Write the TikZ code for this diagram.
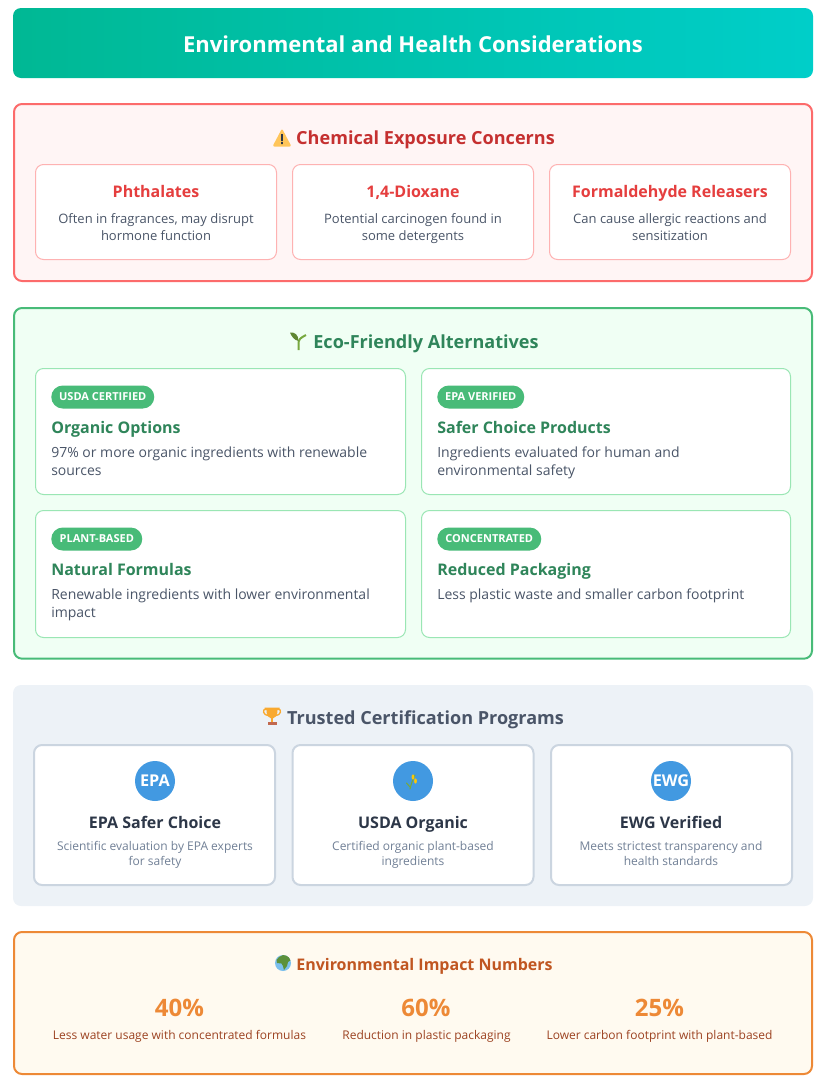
\documentclass[tikz,border=0pt]{standalone}
\usepackage{fontspec}
\setmainfont{Open Sans}
\usepackage{tikz}
\definecolor{headl}{HTML}{00B894}
\definecolor{headr}{HTML}{00CEC9}
\definecolor{redbd}{HTML}{FC6B6B}
\definecolor{redbg}{HTML}{FFF5F5}
\definecolor{redti}{HTML}{C53030}
\definecolor{redhd}{HTML}{E53E3E}
\definecolor{redln}{HTML}{FEB2B2}
\definecolor{grnbd}{HTML}{48BB78}
\definecolor{grnbg}{HTML}{F0FFF4}
\definecolor{grnti}{HTML}{2F855A}
\definecolor{grnln}{HTML}{9AE6B4}
\definecolor{slate}{HTML}{4A5568}
\definecolor{ink}{HTML}{2D3748}
\definecolor{gryln}{HTML}{CBD5E0}
\definecolor{grybg}{HTML}{EDF2F7}
\definecolor{gryte}{HTML}{718096}
\definecolor{blu}{HTML}{4299E1}
\definecolor{orabd}{HTML}{ED8936}
\definecolor{orabg}{HTML}{FFFAF0}
\definecolor{orati}{HTML}{C05621}
\definecolor{oratx}{HTML}{9C4221}
\definecolor{warny}{HTML}{FFC55A}
\definecolor{leaf}{HTML}{77A83E}
\definecolor{gold}{HTML}{F9A92F}
\definecolor{cupbase}{HTML}{C1694F}
\definecolor{sea}{HTML}{7CC0EE}
\definecolor{land}{HTML}{5C913B}
\tikzset{
  box/.style={anchor=north west,inner sep=0pt,outer sep=0pt,rounded corners=6pt},
  panel/.style={box,minimum width=598.5pt,line width=1.5pt},
  redcard/.style={box,draw=redln,fill=white,line width=.75pt,minimum width=180.75pt,minimum height=71.25pt},
  grncard/.style={box,draw=grnln,fill=white,line width=.75pt,minimum width=277.5pt,minimum height=94.5pt},
  grycard/.style={box,draw=gryln,fill=white,line width=1.5pt,minimum width=180.75pt,minimum height=105pt},
  paneltitle/.style={anchor=base,inner sep=0pt,font=\bfseries\fontsize{13.55}{16}\selectfont},
  redhead/.style={anchor=base,inner sep=0pt,text=redhd,font=\bfseries\fontsize{12}{15}\selectfont},
  redtext/.style={anchor=north,align=center,inner sep=0pt,text=slate,execute at begin node=\strut,font=\fontsize{9.75}{12.9}\selectfont},
  tag/.style={anchor=west,inner sep=0pt,rounded corners=8.6pt,fill=grnbd,text=white,minimum height=17.25pt,font=\bfseries\fontsize{8.25}{10}\selectfont},
  grnhead/.style={anchor=base west,inner sep=0pt,text=grnti,font=\bfseries\fontsize{12}{15}\selectfont},
  grntext/.style={anchor=north west,align=left,inner sep=0pt,text=slate,execute at begin node=\strut,font=\fontsize{10.5}{13.5}\selectfont},
  badge/.style={circle,fill=blu,text=white,minimum size=30pt,inner sep=0pt,font=\bfseries\fontsize{12.2}{14}\selectfont},
  gryhead/.style={anchor=base,inner sep=0pt,text=ink,font=\bfseries\fontsize{12}{15}\selectfont},
  grytext/.style={anchor=north,align=center,inner sep=0pt,text=gryte,execute at begin node=\strut,font=\fontsize{9}{11.25}\selectfont},
  stat/.style={anchor=base,inner sep=0pt,text=orabd,font=\bfseries\fontsize{18}{22}\selectfont},
  stattext/.style={anchor=base,inner sep=0pt,text=oratx,font=\fontsize{9}{12}\selectfont}
}
\begin{document}
\begin{tikzpicture}[x=0.75pt,y=-0.75pt,line cap=round,line join=round]
\useasboundingbox (0,0) rectangle (825,1086);
% header
\node[box,left color=headl,right color=headr,minimum width=600pt,minimum height=52.5pt] (header) at (13,8) {};
\node[anchor=base,inner sep=0pt,text=white,font=\bfseries\fontsize{16.5}{20}\selectfont] (headertext) at (413,52) {Environmental and Health Considerations};
% chemical concerns
\node[panel,draw=redbd,fill=redbg,minimum height=132.75pt] (chem) at (14,104) {};
\node[paneltitle,text=redti] (chemtitle) at (425.5,144) {Chemical Exposure Concerns};
\fill[warny,rounded corners=1.5pt] (282,128.5) -- (291.5,146.5) -- (272.5,146.5) -- cycle;
\fill[ink] (281.1,134) rectangle (282.9,141.2) (281.1,142.2) rectangle (282.9,144.2);
\node[redcard] (card1) at (35.5,164.5) {};
\node[redcard] (card2) at (292.5,164.5) {};
\node[redcard] (card3) at (549.5,164.5) {};
\node[redhead] (card1head) at (156,197) {Phthalates};
\node[redhead] (card2head) at (413,197) {1,4-Dioxane};
\node[redhead] (card3head) at (670,197) {Formaldehyde Releasers};
\node[redtext] (card1text) at (156,213.4) {Often in fragrances, may disrupt\\hormone function};
\node[redtext] (card2text) at (413,213.4) {Potential carcinogen found in\\some detergents};
\node[redtext] (card3text) at (670,213.4) {Can cause allergic reactions and\\sensitization};
% alternatives
\node[panel,draw=grnbd,fill=grnbg,minimum height=263pt] (eco) at (14,308) {};
\node[paneltitle,text=grnti] (ecotitle) at (426,348) {Eco-Friendly Alternatives};
\draw[draw=leaf,line width=1.5pt,line cap=butt] (298.5,350) -- (298.5,342) .. controls (298.5,340) and (300,338) .. (306,335);
\fill[leaf!80!black] (290,332.5) .. controls (295,332) and (298.5,335) .. (298.5,341) .. controls (294,340) and (292,337) .. (290,332.5) -- cycle;
\node[grncard] (alt1) at (35.5,368.5) {};
\node[grncard,minimum width=276.75pt] (alt2) at (421.5,368.5) {};
\node[grncard,minimum height=95.25pt] (alt3) at (35.5,510.5) {};
\node[grncard,minimum width=276.75pt,minimum height=95.25pt] (alt4) at (421.5,510.5) {};
\node[tag,minimum width=77.25pt] (tag1) at (51,397) {USDA CERTIFIED};
\node[tag,minimum width=65.25pt] (tag2) at (437,397) {EPA VERIFIED};
\node[tag,minimum width=68.25pt] (tag3) at (51,539) {PLANT-BASED};
\node[tag,minimum width=78pt] (tag4) at (437,539) {CONCENTRATED};
\node[grnhead] (alt1head) at (51,433) {Organic Options};
\node[grnhead] (alt2head) at (437,433) {Safer Choice Products};
\node[grnhead] (alt3head) at (51,575) {Natural Formulas};
\node[grnhead] (alt4head) at (437,575) {Reduced Packaging};
\node[grntext] (alt1text) at (51,447) {97\% or more organic ingredients with renewable\\sources};
\node[grntext] (alt2text) at (437,447) {Ingredients evaluated for human and\\environmental safety};
\node[grntext] (alt3text) at (51,589) {Renewable ingredients with lower environmental\\impact};
\node[grntext] (alt4text) at (437,587) {Less plastic waste and smaller carbon footprint};
% certification
\node[box,fill=grybg,minimum width=600pt,minimum height=165.75pt] (cert) at (13,685) {};
\node[paneltitle,text=slate] (certtitle) at (425.5,724) {Trusted Certification Programs};
\fill[gold] (264.5,707.5) rectangle (279.5,710) (266.5,710) .. controls (266.5,717) and (270,718) .. (272,719) .. controls (274,718) and (277.5,717) .. (277.5,710) -- cycle;
\draw[gold,line width=1pt] (266,709) .. controls (261.5,709) and (263.5,715.5) .. (268,715.5) (278,709) .. controls (282.5,709) and (280.5,715.5) .. (276,715.5);
\fill[gold] (270.8,718) rectangle (273.2,722);
\fill[cupbase] (267.5,722) rectangle (276.5,725);
\node[grycard] (prog1) at (34,745) {};
\node[grycard] (prog2) at (292.5,745) {};
\node[grycard] (prog3) at (551,745) {};
\node[badge] (epa) at (155,781) {EPA};
\node[badge] (usda) at (413,781) {};
\node[badge] (ewg) at (671,781) {EWG};
\draw[leaf,line width=.8pt] (410,789) .. controls (411,785) and (412,781) .. (415,775) (410,787) -- (406.5,783);
\fill[yellow!60!orange] (413,777) ellipse (1.4 and 2.6) (415.5,781) ellipse (1.4 and 2.6);
\node[gryhead] (prog1head) at (155,828) {EPA Safer Choice};
\node[gryhead] (prog2head) at (413,828) {USDA Organic};
\node[gryhead] (prog3head) at (671,828) {EWG Verified};
\node[grytext] (prog1text) at (155,840.8) {Scientific evaluation by EPA experts\\for safety};
\node[grytext] (prog2text) at (413,840.8) {Certified organic plant-based\\ingredients};
\node[grytext] (prog3text) at (671,840.8) {Meets strictest transparency and\\health standards};
% numbers
\node[panel,draw=orabd,fill=orabg,minimum height=106.5pt] (nums) at (14,932) {};
\node[anchor=base,inner sep=0pt,text=orati,font=\bfseries\fontsize{12}{15}\selectfont] (numstitle) at (424.5,970) {Environmental Impact Numbers};
\fill[sea] (283,963) circle (8);
\begin{scope}
\clip (283,963) circle (8);
\fill[land] (279,957) -- (283,955) -- (288,956) -- (291,960) -- (288,962) -- (287,966) -- (284,970) -- (283,966) -- (281.5,963.5) -- (277,963) -- (276.5,960) -- cycle;
\end{scope}
\node[stat] (stat1) at (179.5,1016) {40\%};
\node[stat] (stat2) at (426,1016) {60\%};
\node[stat] (stat3) at (659.5,1016) {25\%};
\node[stattext] (stat1text) at (179.5,1039) {Less water usage with concentrated formulas};
\node[stattext] (stat2text) at (426.5,1039) {Reduction in plastic packaging};
\node[stattext] (stat3text) at (659.5,1039) {Lower carbon footprint with plant-based};
\end{tikzpicture}
\end{document}
